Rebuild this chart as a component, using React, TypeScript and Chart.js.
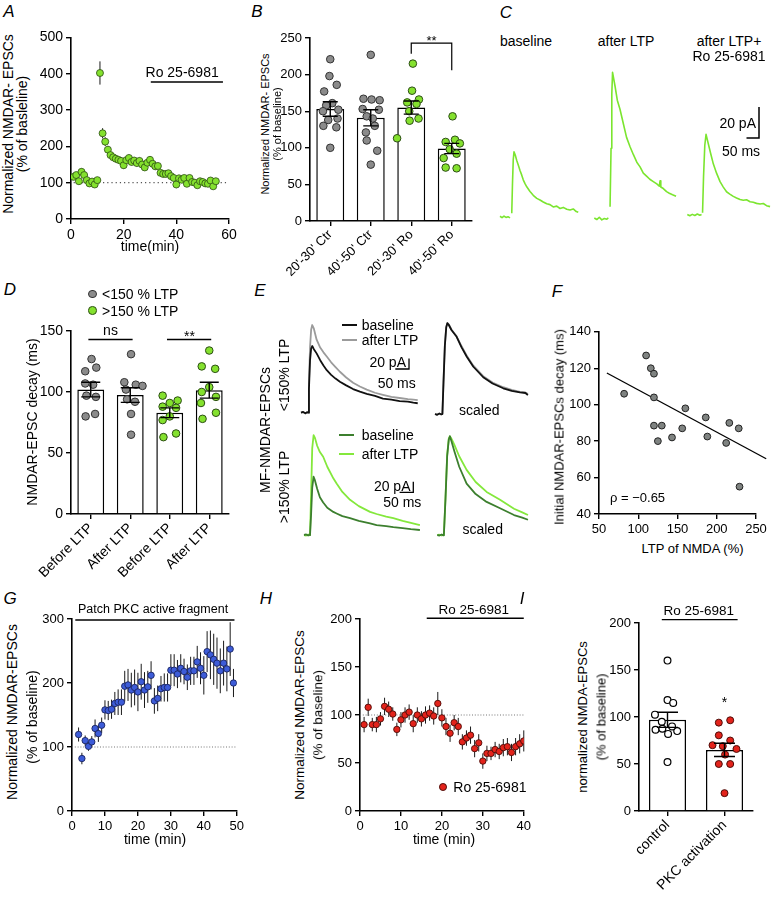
import React, { useEffect, useRef } from 'react';
import { Chart, registerables } from 'chart.js';

Chart.register(...registerables);

const FONT = "'Liberation Sans', Arial, Helvetica, sans-serif";
Chart.defaults.font.family = FONT;
Chart.defaults.color = '#000';

/* ================= DATA ================= */
// Panel A – time course (min, % of baseline)
const A_TIME = [1,2,3,4,5,6,7,8,9,10,11,12,13,14,15,16,17,18,19,20,21,22,23,24,25,26,27,28,29,30,31,32,33,34,35,36,37,38,39,40,41,42,43,44,45,46,47,48,49,50,51,52,53,54,55];
const A_NMDA = [116,121,104,130,121,107,98,103,95,107, 402,236,213,191,176,170,166,163,160,148, 162,168,157,161,154,160,150,142,155,163, 152,145,146,127,124,124,126,118,113,95, 112,108,113,97,113,102,100,93,104,102, 98,97,106,90,104];
const A_SEM = [8,8,8,9,8,8,7,7,8,8, 32,14,12,10,10,9,9,9,9,10, 9,9,9,9,9,9,9,9,9,9, 9,9,9,8,8,8,8,8,8,10, 8,8,8,8,8,8,7,7,7,7, 7,7,7,7,7];
const A_X_TICKS = [0, 20, 40, 60];
const A_Y_TICKS = [0, 100, 200, 300, 400, 500];

// Panel B – bars + individual cells
const B_LABELS = ["20'-30' Ctr", "40'-50' Ctr", "20'-30' Ro", "40'-50' Ro"];
const B_MEAN = [153, 141, 155, 99];
const B_SEM = [10, 11, 9, 7];
const B_CTR_20_30 = [221, 198, 186, 177, 161, 158, 152, 150, 140, 138, 130, 128, 100];
const B_CTR_40_50 = [227, 167, 166, 165, 153, 152, 143, 140, 130, 121, 110, 96, 77];
const B_RO_20_30 = [215, 178, 166, 162, 160, 150, 140, 137, 113];
const B_RO_40_50 = [143, 111, 108, 106, 98, 92, 86, 73, 72];
const B_Y_TICKS = [0, 50, 100, 150, 200, 250];

// Panel C – example traces (ms, pA)
const C_BASE_MS = [0,8,16,24,32,40,43,47,50,53,56,61,67,74,80,87,93,100,107,120,133,147,160,173,187,200,213,227,240,253,267,280,293,305,313];
const C_BASE_PA = [0.5,-0.4,0.6,-0.3,0.2,-0.6,null,2.4,22,37,42,40,36.5,33,30,27,24,21.5,19.5,16.5,14,12,11,9.7,8.5,8,6.5,7,5.5,6.2,5,4.5,5.2,3.5,3];
const C_LTP_MS = [0,10,20,30,40,50,56,59,63,67,70,73,83,92,103,116,129,143,156,170,183,196,209,222,236,250,260,263,266,276,289,300,313,327];
const C_LTP_PA = [0,-1,0.5,-1.2,-0.3,-0.8,0.2,null,7.3,45,80,94,85,76,70,61,52,46,41,36,33,29,27,25,23.5,22,20.5,24,20,19,17,16,15,14];
const C_RO_MS = [0,10,20,30,40,50,57,59,61,65,70,75,84,93,104,117,131,144,157,170,184,197,211,224,237,251,264,277,291,304,317,331];
const C_RO_PA = [0.3,-0.5,0.4,-0.3,0.6,-0.2,0.3,null,1.5,25,45,52,46,40,33,27,21.5,18,15,13.5,12,11,10,9.5,9.8,8.6,8.2,7.5,7.1,7.4,6,5.4];
const C_BAR_PA = 20;
const C_BAR_MS = 50;

// Panel D – decay times
const D_LABELS = ['Before LTP', 'After LTP', 'Before LTP', 'After LTP'];
const D_MEAN = [102, 97.5, 83, 101.5];
const D_SEM = [6, 6, 4, 6.5];
const D_LOW_BEFORE = [127, 120, 117, 107, 106, 97, 96, 82, 80];
const D_LOW_AFTER = [131, 108, 106, 105, 102, 94, 92, 82, 65];
const D_HIGH_BEFORE = [97, 93, 91, 88, 87, 80, 77, 66, 63];
const D_HIGH_AFTER = [134, 121, 119, 104, 100, 96, 91, 83, 78];
const D_Y_TICKS = [0, 50, 100, 150];

// Panel E – traces (ms, pA)
const E_LOW_MS = [0,8,16,22,26,29,33,37,41,47,57,70,82,94,110,126,142,165,190,215,240,270,299,330,360,390,410,426];
const E_LOW_BASE = [0,1.5,-1,1,0,45,100,122,127,121,113,100,90,81,72,65,59,52,45,40,36,32,27,25,22,21,19,18];
const E_LOW_LTP = [0,1,-1.5,0.5,0,55,125,158,167,160,139,124,115,107,96,87,78,67,57,50,44,38,34,30,28,26,25,24];
const E_LOW_SC_MS = [0,8,16,22,27,31,36,41,45,50,60,79,97,116,140,176,210,249,280,310,330,339];
const E_LOW_SC_BASE = [0,-1.5,1,-0.5,0,60,130,165,173,170,160,147,127,109,90,70,58,49,44,41,40,36];
const E_LOW_SC_LTP = [0,-1,0.5,-1,0,62,132,166,173,171,161,148,129,111,92,72,60,51,46,42,41,38];
const E_HIGH_MS = [0,8,15,20,22,26,30,35,40,48,58,70,85,107,119,140,168,200,241,265,300,326,360,390,423];
const E_HIGH_BASE = [0,1,-1,0.5,0,40,90,111,104,88,72,62,52,44,41,36,32,27,22,19,17,15,13,11,9.5];
const E_HIGH_LTP = [0,-1,1,-0.5,0,80,165,190,185,170,158,149,130,108,98,82,67,55,44,40,35,32,27,23,19];
const E_HIGH_SC_MS = [0,8,16,21,24,30,36,42,46,52,62,80,107,140,180,229,280,310,331];
const E_HIGH_SC_BASE = [0,-1,1,-0.5,0,70,150,182,188,178,160,130,98,78,63,51,38,33,29];
const E_HIGH_SC_LTP = [0,0.5,-1,0.5,0,72,152,184,188,183,172,150,124,101,82,67,50,43,38];
const E_BAR_PA = 20;
const E_BAR_MS = 50;

// Panel F – correlation
const F_LTP = [82, 110, 116, 120, 120, 120, 130, 125, 143, 156, 160, 186, 188, 212, 216, 228, 229];
const F_DECAY = [106, 127, 120, 117, 104, 88.5, 88.5, 80, 82, 87, 98, 93, 82.5, 79, 90, 87, 55];
const F_FIT_X = [60, 263];
const F_FIT_Y = [117.4, 70.3];
const F_X_TICKS = [50, 100, 150, 200, 250];
const F_Y_TICKS = [40, 60, 80, 100, 120, 140];

// Panel G – PKC fragment
const G_TIME = [2,3,4,5,6,7,8,9,10,11,12,13,14,15,16,17,18,19,20,21,22,23,24,25,26,27,28,29,30,31,32,33,34,35,36,37,38,39,40,41,42,43,44,45,46,47,48,49];
const G_NMDA = [119.5,82,110,101,108,129,121,134, 158,157,159,168,170,170,195,197, 189,193,186,202,189,194,212,172, 176,191,193,193,220,220,214,223, 218,209,219,219,233,223,212,249, 244,237,231,219,231,222,253,200];
const G_SEM = [11,9,8,7,9,14,13,12, 15,15,15,18,20,20,24,25, 27,28,30,28,28,25,22,20, 20,20,22,22,25,25,22,22, 20,20,22,22,25,25,30,32, 38,40,40,35,35,35,42,22];
const G_X_TICKS = [0, 10, 20, 30, 40, 50];
const G_Y_TICKS = [0, 100, 200, 300];

// Panel H – Ro 25-6981
const H_TIME = [1,2,3,4,5,6,7,8,9,10,11,12,13,14,15,16,17,18,19,20,21,22,23,24,25,26,27,28,29,30,31,32,33,34,35,36,37,38,39,40];
const H_NMDA = [90,108,90,90,96,109,106,101,85,95, 100,103,91,100,96,100,102,99,112,97, 88,81,92,88,72,76,79,65,71,52, 60,60,64,62,66,67,61,67,70,73];
const H_SEM = [8,9,7,8,7,9,8,7,7,8, 8,8,9,8,8,9,8,9,12,9, 9,9,8,9,8,8,9,9,9,8, 8,7,8,8,9,9,9,9,10,11];
const H_X_TICKS = [0, 10, 20, 30, 40];
const H_Y_TICKS = [0, 50, 100, 150, 200];

// Panel I
const I_LABELS = ['control', 'PKC activation'];
const I_MEAN = [97, 65];
const I_SEM = [8, 7];
const I_CONTROL = [160, 118, 115, 102.5, 95, 86.5, 87.5, 82, 85, 90, 52];
const I_PKC = [94, 96.5, 80.5, 75, 70, 69, 66, 60, 50, 50, 19];
const I_Y_TICKS = [0, 50, 100, 150, 200];

/* ================= LAYOUT / STYLE ================= */
// horizontal scatter offsets of individual dots (category units)
const B_JIT = [
  [0, -0.02, 0.16, -0.15, 0.05, -0.1, 0.2, -0.18, 0.18, -0.05, -0.17, 0.15, 0],
  [0, -0.18, 0.02, 0.22, -0.2, 0.2, -0.1, 0.05, 0.1, -0.12, -0.1, 0.16, 0],
  [0.04, 0.02, 0.19, -0.1, 0.13, -0.05, 0.18, -0.04, -0.35],
  [0.02, 0.08, -0.15, 0.2, -0.05, 0.12, -0.2, -0.15, 0.12],
];
const D_JIT = [
  [0.02, 0.14, -0.14, -0.14, 0.06, -0.11, 0.13, 0.11, -0.13],
  [0.02, -0.15, 0.14, 0.31, -0.11, -0.08, 0.12, 0.02, 0.02],
  [-0.18, 0.2, 0, -0.18, 0.16, 0, -0.18, 0.16, -0.16],
  [0, -0.19, 0.15, 0, -0.19, 0.17, -0.21, 0.17, -0.17],
];
const I_JIT = [
  [0, 0, 0.1, -0.22, -0.1, -0.21, -0.09, 0.01, 0.17, 0.08, 0],
  [-0.1, 0.1, -0.1, 0.1, -0.21, -0.03, 0.21, 0.01, -0.1, 0.1, 0],
];

const GREEN = '#84e12e';
const GREEN_EDGE = '#2c4d14';
const GRAY = '#8b8b8b';
const GRAY_EDGE = '#333333';
const BLUE = '#3d5cd8';
const BLUE_EDGE = '#1b2560';
const RED = '#e3231b';
const RED_EDGE = '#4d0b07';
const TRACE_GREEN = '#7be52f';
const E_BLACK = '#111111';
const E_GRAY = '#9b9b9b';
const E_DARK = '#3c7f2e';
const E_LIGHT = '#84e83c';

type Plot = { x: number; y: number; w: number; h: number; l: number; t: number; r: number; b: number };
const PLOT_A: Plot = { x: 71, y: 36, w: 158, h: 183, l: 40, t: 10, r: 15, b: 25 };
const PLOT_B: Plot = { x: 310, y: 38, w: 162, h: 183, l: 35, t: 32, r: 10, b: 80 };
const PLOT_D: Plot = { x: 71, y: 331, w: 158, h: 183, l: 40, t: 25, r: 10, b: 80 };
const PLOT_F: Plot = { x: 599, y: 331, w: 157, h: 183, l: 35, t: 10, r: 16, b: 25 };
const PLOT_G: Plot = { x: 72, y: 619, w: 165, h: 192, l: 35, t: 20, r: 10, b: 25 };
const PLOT_H: Plot = { x: 360, y: 619, w: 164, h: 192, l: 35, t: 20, r: 10, b: 25 };
const PLOT_I: Plot = { x: 639, y: 623, w: 114, h: 188, l: 35, t: 20, r: 15, b: 85 };

type Geo = { left: number; top: number; w: number; h: number; x0: number; y0: number; pxMs: number; pxPa: number };
const GEO_C1: Geo = { left: 497, top: 60, w: 86, h: 175, x0: 500, y0: 217, pxMs: 0.25, pxPa: 1.55 };
const GEO_C2: Geo = { left: 591, top: 60, w: 90, h: 175, x0: 594.3, y0: 218, pxMs: 0.25, pxPa: 1.55 };
const GEO_C3: Geo = { left: 684, top: 60, w: 88, h: 175, x0: 687.3, y0: 215, pxMs: 0.25, pxPa: 1.55 };
const GEO_E1: Geo = { left: 296, top: 312, w: 130, h: 110, x0: 301, y0: 412.7, pxMs: 0.274, pxPa: 0.525 };
const GEO_E2: Geo = { left: 430, top: 312, w: 105, h: 110, x0: 435, y0: 414, pxMs: 0.274, pxPa: 0.525 };
const GEO_E3: Geo = { left: 298, top: 425, w: 128, h: 118, x0: 304, y0: 535, pxMs: 0.274, pxPa: 0.525 };
const GEO_E4: Geo = { left: 432, top: 425, w: 102, h: 118, x0: 437.3, y0: 535, pxMs: 0.274, pxPa: 0.525 };
// scale-bar corners (data units of the chart they sit in)
const C_BAR_AT = [286.8, 49.7];
const E1_BAR_AT = [394.2, 83.2];
const E3_BAR_AT = [398.9, 81.3];

/* ================= PLUGINS ================= */
type Pt = [number, number];
type ALine = { pts: Pt[]; color?: string; width?: number; dash?: number[]; under?: boolean; xs?: string };
type AText = { x: number; y: number; text: string; size: number; align?: string; baseline?: string; xs?: string };

function annotPlugin(lines: ALine[], texts: AText[] = []) {
  const draw = (chart: any, under: boolean) => {
    const ctx = chart.ctx;
    const ys = chart.scales.y;
    lines.filter((l) => !!l.under === under).forEach((l) => {
      const xs = chart.scales[l.xs || 'x'];
      ctx.save();
      ctx.strokeStyle = l.color || '#000';
      ctx.lineWidth = l.width ?? 1.5;
      ctx.setLineDash(l.dash || []);
      ctx.beginPath();
      l.pts.forEach(([x, y], i) => {
        const px = xs.getPixelForValue(x);
        const py = ys.getPixelForValue(y);
        if (i === 0) ctx.moveTo(px, py);
        else ctx.lineTo(px, py);
      });
      ctx.stroke();
      ctx.restore();
    });
    if (!under) {
      texts.forEach((t) => {
        const xs = chart.scales[t.xs || 'x'];
        ctx.save();
        ctx.fillStyle = '#000';
        ctx.font = `${t.size}px ${FONT}`;
        ctx.textAlign = t.align || 'center';
        ctx.textBaseline = t.baseline || 'middle';
        ctx.fillText(t.text, xs.getPixelForValue(t.x), ys.getPixelForValue(t.y));
        ctx.restore();
      });
    }
  };
  return {
    id: 'annot',
    beforeDatasetsDraw: (c: any) => draw(c, true),
    afterDatasetsDraw: (c: any) => draw(c, false),
  };
}

function errPlugin(ds: number, means: number[], errs: number[], o: { cap: number; color: string; width: number; under: boolean }) {
  const draw = (chart: any) => {
    const meta = chart.getDatasetMeta(ds);
    const ys = chart.scales.y;
    const ctx = chart.ctx;
    ctx.save();
    ctx.strokeStyle = o.color;
    ctx.lineWidth = o.width;
    ctx.beginPath();
    meta.data.forEach((el: any, i: number) => {
      const x = el.x;
      const yt = ys.getPixelForValue(means[i] + errs[i]);
      const yb = ys.getPixelForValue(means[i] - errs[i]);
      ctx.moveTo(x, yt);
      ctx.lineTo(x, yb);
      if (o.cap > 0) {
        ctx.moveTo(x - o.cap / 2, yt);
        ctx.lineTo(x + o.cap / 2, yt);
        ctx.moveTo(x - o.cap / 2, yb);
        ctx.lineTo(x + o.cap / 2, yb);
      }
    });
    ctx.stroke();
    ctx.restore();
  };
  return o.under ? { id: 'errbars', beforeDatasetsDraw: draw } : { id: 'errbars', afterDatasetsDraw: draw };
}

/* ================= CONFIG BUILDERS ================= */
const BASE = {
  responsive: false,
  animation: false,
  devicePixelRatio: 1,
  events: [],
  plugins: { legend: { display: false }, tooltip: { enabled: false } },
};

const GRID = { display: true, drawOnChartArea: false, drawTicks: true, tickLength: 5, color: '#000', lineWidth: 1.4 };
const BORDER = { display: true, color: '#000', width: 1.6 };

function linAxis(ticks: number[], size: number, fit: number, horizontal: boolean) {
  return {
    type: 'linear',
    min: ticks[0],
    max: ticks[ticks.length - 1],
    afterBuildTicks: (s: any) => {
      s.ticks = ticks.map((v) => ({ value: v }));
    },
    afterFit: (s: any) => {
      if (horizontal) s.height = fit;
      else s.width = fit;
    },
    ticks: { color: '#000', font: { size, family: FONT }, padding: 3, autoSkip: false, maxRotation: 0, minRotation: 0 },
    grid: GRID,
    border: BORDER,
  };
}

const padOf = (p: Plot) => ({ padding: { left: 0, top: p.t, right: p.r, bottom: 0 } });

type Dot = { r: number; fill: string; edge: string; bw: number };

function timeConfig(p: Plot, xs: number[], vs: number[], es: number[], d: Dot, xT: number[], yT: number[], fs: number, lines: ALine[], texts: AText[]) {
  return {
    type: 'scatter',
    data: {
      datasets: [
        {
          data: xs.map((x, i) => ({ x, y: vs[i] })),
          pointRadius: d.r,
          pointBackgroundColor: d.fill,
          pointBorderColor: d.edge,
          pointBorderWidth: d.bw,
        },
      ],
    },
    options: {
      ...BASE,
      layout: padOf(p),
      scales: { x: linAxis(xT, fs, p.b, true), y: linAxis(yT, fs, p.l, false) },
    },
    plugins: [errPlugin(0, vs, es, { cap: 0, color: '#1a1a1a', width: 1, under: true }), annotPlugin(lines, texts)],
  };
}

type Group = { idx: number; vals: number[]; jit: number[]; d: Dot };

function barConfig(p: Plot, labels: string[], means: number[], sems: number[], groups: Group[], yT: number[], fs: number, ls: number, barPct: number, cap: number, lines: ALine[], texts: AText[]) {
  const n = labels.length;
  return {
    type: 'bar',
    data: {
      labels,
      datasets: [
        {
          type: 'bar',
          data: means,
          backgroundColor: '#fff',
          borderColor: '#000',
          borderWidth: 1.5,
          barPercentage: barPct,
          categoryPercentage: 1,
          grouped: false,
          order: 2,
          xAxisID: 'x',
          yAxisID: 'y',
        },
        ...groups.map((g) => ({
          type: 'scatter',
          data: g.vals.map((v, i) => ({ x: g.idx + g.jit[i], y: v })),
          xAxisID: 'xj',
          yAxisID: 'y',
          pointRadius: g.d.r,
          pointBackgroundColor: g.d.fill,
          pointBorderColor: g.d.edge,
          pointBorderWidth: g.d.bw,
          order: 1,
        })),
      ],
    },
    options: {
      ...BASE,
      layout: padOf(p),
      scales: {
        x: {
          type: 'category',
          offset: true,
          afterFit: (s: any) => {
            s.height = p.b;
          },
          ticks: { color: '#000', font: { size: ls, family: FONT }, minRotation: 45, maxRotation: 45, autoSkip: false, padding: 1 },
          grid: { ...GRID, offset: false },
          border: BORDER,
        },
        xj: { type: 'linear', display: false, offset: false, grid: { offset: false }, min: -0.5, max: n - 0.5 },
        y: linAxis(yT, fs, p.l, false),
      },
    },
    plugins: [errPlugin(0, means, sems, { cap, color: '#000', width: 1.4, under: false }), annotPlugin(lines, texts)],
  };
}

type Series = { ms: number[]; pa: (number | null)[]; color: string; width: number };

function traceConfig(g: Geo, series: Series[], lines: ALine[]) {
  return {
    type: 'line',
    data: {
      datasets: series.map((s) => ({
        data: s.ms.map((t, i) => ({ x: t, y: s.pa[i] })),
        borderColor: s.color,
        borderWidth: s.width,
        pointRadius: 0,
        tension: 0,
        fill: false,
        spanGaps: false,
        clip: false,
        borderJoinStyle: 'round',
      })),
    },
    options: {
      ...BASE,
      layout: { padding: 0 },
      scales: {
        x: { type: 'linear', display: false, min: (g.left - g.x0) / g.pxMs, max: (g.left + g.w - g.x0) / g.pxMs },
        y: { type: 'linear', display: false, min: (g.y0 - g.top - g.h) / g.pxPa, max: (g.y0 - g.top) / g.pxPa },
      },
    },
    plugins: [annotPlugin(lines)],
  };
}

const scaleBar = (at: number[], ms: number, pa: number): ALine => ({
  pts: [
    [at[0] - ms, at[1]],
    [at[0], at[1]],
    [at[0], at[1] + pa],
  ],
  width: 1.5,
});

/* ================= CHART FACTORIES ================= */
const DOT_A: Dot = { r: 3.5, fill: GREEN, edge: GREEN_EDGE, bw: 0.8 };
const DOT_GRAY: Dot = { r: 3.8, fill: GRAY, edge: GRAY_EDGE, bw: 1 };
const DOT_GREEN: Dot = { r: 3.8, fill: GREEN, edge: GREEN_EDGE, bw: 1 };

const makeA = () =>
  timeConfig(PLOT_A, A_TIME, A_NMDA, A_SEM, DOT_A, A_X_TICKS, A_Y_TICKS, 14, [
    { pts: [[30.3, 377], [57.7, 377]], width: 1.5 },
    { pts: [[1, 100], [60, 100]], dash: [1.2, 3], color: '#555', width: 1.2, under: true },
  ], [{ x: 42.2, y: 401, text: 'Ro 25-6981', size: 14 }]);

const makeB = () =>
  barConfig(PLOT_B, B_LABELS, B_MEAN, B_SEM, [
    { idx: 0, vals: B_CTR_20_30, jit: B_JIT[0], d: DOT_GRAY },
    { idx: 1, vals: B_CTR_40_50, jit: B_JIT[1], d: DOT_GRAY },
    { idx: 2, vals: B_RO_20_30, jit: B_JIT[2], d: DOT_GREEN },
    { idx: 3, vals: B_RO_40_50, jit: B_JIT[3], d: DOT_GREEN },
  ], B_Y_TICKS, 13, 13, 0.69, 15, [
    { pts: [[2, 228.5], [2, 243], [3, 243], [3, 206]], width: 1.2, xs: 'xj' },
  ], [{ x: 2.5, y: 239.8, text: '**', size: 13, baseline: 'alphabetic', xs: 'xj' }]);

const makeD = () =>
  barConfig(PLOT_D, D_LABELS, D_MEAN, D_SEM, [
    { idx: 0, vals: D_LOW_BEFORE, jit: D_JIT[0], d: DOT_GRAY },
    { idx: 1, vals: D_LOW_AFTER, jit: D_JIT[1], d: DOT_GRAY },
    { idx: 2, vals: D_HIGH_BEFORE, jit: D_JIT[2], d: DOT_GREEN },
    { idx: 3, vals: D_HIGH_AFTER, jit: D_JIT[3], d: DOT_GREEN },
  ], D_Y_TICKS, 14, 14, 0.68, 19, [
    { pts: [[-0.06, 143], [1.06, 143]], width: 1.5, xs: 'xj' },
    { pts: [[1.93, 143], [3.05, 143]], width: 1.5, xs: 'xj' },
  ], [
    { x: 0.5, y: 146.8, text: 'ns', size: 14, baseline: 'alphabetic', xs: 'xj' },
    { x: 2.5, y: 141.7, text: '**', size: 14, baseline: 'alphabetic', xs: 'xj' },
  ]);

const makeF = () => ({
  type: 'scatter',
  data: {
    datasets: [
      {
        data: F_LTP.map((x, i) => ({ x, y: F_DECAY[i] })),
        pointRadius: 3.4,
        pointBackgroundColor: '#7f8381',
        pointBorderColor: '#222',
        pointBorderWidth: 1,
        order: 1,
      },
      {
        type: 'line',
        data: F_FIT_X.map((x, i) => ({ x, y: F_FIT_Y[i] })),
        showLine: true,
        borderColor: '#000',
        borderWidth: 1.3,
        pointRadius: 0,
        clip: false,
        order: 2,
      },
    ],
  },
  options: {
    ...BASE,
    layout: padOf(PLOT_F),
    scales: { x: linAxis(F_X_TICKS, 13, PLOT_F.b, true), y: linAxis(F_Y_TICKS, 13, PLOT_F.l, false) },
  },
});

const makeG = () =>
  timeConfig(PLOT_G, G_TIME, G_NMDA, G_SEM, { r: 3.2, fill: BLUE, edge: BLUE_EDGE, bw: 0.9 }, G_X_TICKS, G_Y_TICKS, 13, [
    { pts: [[1, 298.4], [49.3, 298.4]], width: 1.3 },
    { pts: [[0, 100], [50, 100]], dash: [1, 1.8], color: '#777', width: 1.2, under: true },
  ], [{ x: 24.6, y: 314, text: 'Patch PKC active fragment', size: 12.5 }]);

const makeH = () =>
  timeConfig(PLOT_H, H_TIME, H_NMDA, H_SEM, { r: 3.2, fill: RED, edge: RED_EDGE, bw: 0.9 }, H_X_TICKS, H_Y_TICKS, 13, [
    { pts: [[16.3, 200.8], [40, 200.8]], width: 1.5 },
    { pts: [[0, 100], [40, 100]], dash: [1, 1.8], color: '#777', width: 1.2, under: true },
  ], [{ x: 27.8, y: 209.5, text: 'Ro 25-6981', size: 13.5 }]);

const makeI = () =>
  barConfig(PLOT_I, I_LABELS, I_MEAN, I_SEM, [
    { idx: 0, vals: I_CONTROL, jit: I_JIT[0], d: { r: 3.4, fill: '#fff', edge: '#000', bw: 1.2 } },
    { idx: 1, vals: I_PKC, jit: I_JIT[1], d: { r: 3.5, fill: RED, edge: RED_EDGE, bw: 1 } },
  ], I_Y_TICKS, 13, 14, 0.65, 21, [
    { pts: [[-0.1, 203.6], [1.23, 203.6]], width: 1.3, xs: 'xj' },
  ], [
    { x: 0.55, y: 212.8, text: 'Ro 25-6981', size: 13.5, xs: 'xj' },
    { x: 1, y: 111, text: '*', size: 14, baseline: 'alphabetic', xs: 'xj' },
  ]);

const makeC1 = () => traceConfig(GEO_C1, [{ ms: C_BASE_MS, pa: C_BASE_PA, color: TRACE_GREEN, width: 1.6 }], []);
const makeC2 = () => traceConfig(GEO_C2, [{ ms: C_LTP_MS, pa: C_LTP_PA, color: TRACE_GREEN, width: 1.6 }], []);
const makeC3 = () => traceConfig(GEO_C3, [{ ms: C_RO_MS, pa: C_RO_PA, color: TRACE_GREEN, width: 1.6 }], [scaleBar(C_BAR_AT, C_BAR_MS, C_BAR_PA)]);
const makeE1 = () =>
  traceConfig(GEO_E1, [
    { ms: E_LOW_MS, pa: E_LOW_BASE, color: E_BLACK, width: 1.8 },
    { ms: E_LOW_MS, pa: E_LOW_LTP, color: E_GRAY, width: 1.8 },
  ], [{ ...scaleBar(E1_BAR_AT, E_BAR_MS, E_BAR_PA), width: 1.3 }]);
const makeE2 = () =>
  traceConfig(GEO_E2, [
    { ms: E_LOW_SC_MS, pa: E_LOW_SC_BASE, color: E_BLACK, width: 1.8 },
    { ms: E_LOW_SC_MS, pa: E_LOW_SC_LTP, color: E_GRAY, width: 1.8 },
  ], []);
const makeE3 = () =>
  traceConfig(GEO_E3, [
    { ms: E_HIGH_MS, pa: E_HIGH_BASE, color: E_DARK, width: 1.8 },
    { ms: E_HIGH_MS, pa: E_HIGH_LTP, color: E_LIGHT, width: 1.8 },
  ], [{ ...scaleBar(E3_BAR_AT, E_BAR_MS, E_BAR_PA), width: 1.3 }]);
const makeE4 = () =>
  traceConfig(GEO_E4, [
    { ms: E_HIGH_SC_MS, pa: E_HIGH_SC_BASE, color: E_DARK, width: 1.8 },
    { ms: E_HIGH_SC_MS, pa: E_HIGH_SC_LTP, color: E_LIGHT, width: 1.8 },
  ], []);

/* ================= COMPONENTS ================= */
function ChartBox({ left, top, width, height, make }: { left: number; top: number; width: number; height: number; make: () => any }) {
  const ref = useRef<HTMLCanvasElement>(null);
  useEffect(() => {
    const chart = new Chart(ref.current as HTMLCanvasElement, make());
    return () => chart.destroy();
  }, []);
  return (
    <canvas
      ref={ref}
      width={width}
      height={height}
      style={{ position: 'absolute', left, top, width, height }}
    />
  );
}

const PlotBox = ({ p, make }: { p: Plot; make: () => any }) => (
  <ChartBox left={p.x - p.l} top={p.y - p.t} width={p.w + p.l + p.r} height={p.h + p.t + p.b} make={make} />
);
const TraceBox = ({ g, make }: { g: Geo; make: () => any }) => (
  <ChartBox left={g.left} top={g.top} width={g.w} height={g.h} make={make} />
);

function T({ x, y, s = 14, a = 'c', r = 0, it = false, children }: { x: number; y: number; s?: number; a?: string; r?: number; it?: boolean; children: React.ReactNode }) {
  const tx = a === 'c' ? '-50%' : a === 'e' ? '-100%' : '0';
  return (
    <div
      style={{
        position: 'absolute',
        left: x,
        top: y,
        fontSize: s,
        lineHeight: 1,
        whiteSpace: 'nowrap',
        fontStyle: it ? 'italic' : 'normal',
        transform: `translate(${tx}, -50%)${r ? ` rotate(${r}deg)` : ''}`,
      }}
    >
      {children}
    </div>
  );
}

const LegendDot = ({ x, y, r, fill, edge }: { x: number; y: number; r: number; fill: string; edge: string }) => (
  <div
    style={{
      position: 'absolute',
      left: x - r,
      top: y - r,
      width: 2 * r,
      height: 2 * r,
      boxSizing: 'border-box',
      borderRadius: '50%',
      background: fill,
      border: `1px solid ${edge}`,
    }}
  />
);

const LegendLine = ({ x1, x2, y, color }: { x1: number; x2: number; y: number; color: string }) => (
  <div style={{ position: 'absolute', left: x1, top: y - 1, width: x2 - x1, height: 2, background: color }} />
);

export default function App() {
  return (
    <div
      style={{
        position: 'absolute',
        left: 0,
        top: 0,
        width: 772,
        height: 899,
        overflow: 'hidden',
        background: '#fff',
        fontFamily: FONT,
        color: '#000',
      }}
    >
      <PlotBox p={PLOT_A} make={makeA} />
      <PlotBox p={PLOT_B} make={makeB} />
      <TraceBox g={GEO_C1} make={makeC1} />
      <TraceBox g={GEO_C2} make={makeC2} />
      <TraceBox g={GEO_C3} make={makeC3} />
      <PlotBox p={PLOT_D} make={makeD} />
      <TraceBox g={GEO_E1} make={makeE1} />
      <TraceBox g={GEO_E2} make={makeE2} />
      <TraceBox g={GEO_E3} make={makeE3} />
      <TraceBox g={GEO_E4} make={makeE4} />
      <PlotBox p={PLOT_F} make={makeF} />
      <PlotBox p={PLOT_G} make={makeG} />
      <PlotBox p={PLOT_H} make={makeH} />
      <PlotBox p={PLOT_I} make={makeI} />

      {/* panel letters */}
      <T x={9} y={11} s={17} it>A</T>
      <T x={257} y={11} s={17} it>B</T>
      <T x={506} y={12} s={17} it>C</T>
      <T x={10} y={289} s={17} it>D</T>
      <T x={260} y={290} s={17} it>E</T>
      <T x={557} y={291} s={17} it>F</T>
      <T x={10} y={598} s={17} it>G</T>
      <T x={266} y={598} s={17} it>H</T>
      <T x={522} y={598} s={17} it>I</T>

      {/* A */}
      <T x={7.5} y={124} r={-90}>Normalized NMDAR- EPSCs</T>
      <T x={21.5} y={124} r={-90}>(% of basleline)</T>
      <T x={150} y={246}>time(min)</T>

      {/* B */}
      <T x={265} y={124} s={11} r={-90}>Normalized NMDAR- EPSCs</T>
      <T x={276.5} y={124} s={11} r={-90}>(% of baseline)</T>

      {/* C */}
      <T x={526} y={41}>baseline</T>
      <T x={626} y={41}>after LTP</T>
      <T x={729} y={41}>after LTP+</T>
      <T x={729} y={55.5}>Ro 25-6981</T>
      <T x={756} y={123} a="e">20 pA</T>
      <T x={741} y={150.5}>50 ms</T>

      {/* D */}
      <T x={31.5} y={422} r={-90}>NMDAR-EPSC decay (ms)</T>
      <LegendDot x={92.7} y={294} r={4.3} fill={GRAY} edge={GRAY_EDGE} />
      <T x={102} y={294} a="s">&lt;150 % LTP</T>
      <LegendDot x={92.7} y={310.7} r={4.3} fill={GREEN} edge={GREEN_EDGE} />
      <T x={102} y={310.7} a="s">&gt;150 % LTP</T>

      {/* E */}
      <T x={265} y={430} r={-90}>MF-NMDAR-EPSCs</T>
      <T x={284} y={375} r={-90}>&lt;150% LTP</T>
      <T x={284} y={487} r={-90}>&gt;150% LTP</T>
      <LegendLine x1={341.7} x2={356.7} y={325} color={E_BLACK} />
      <T x={361.7} y={325} a="s">baseline</T>
      <LegendLine x1={341.7} x2={356.7} y={340} color={E_GRAY} />
      <T x={361.7} y={340} a="s">after LTP</T>
      <T x={406} y={362.3} a="e">20 pA</T>
      <T x={396.7} y={383.3}>50 ms</T>
      <T x={479.3} y={410}>scaled</T>
      <LegendLine x1={339.3} x2={354} y={435} color={E_DARK} />
      <T x={361.7} y={435} a="s">baseline</T>
      <LegendLine x1={339.3} x2={354} y={454.3} color={E_LIGHT} />
      <T x={361.7} y={454.3} a="s">after LTP</T>
      <T x={410.5} y={485.7} a="e">20 pA</T>
      <T x={402.3} y={501.7}>50 ms</T>
      <T x={482.7} y={529.3}>scaled</T>

      {/* F */}
      <T x={558.8} y={427} s={13} r={-90}>Initial NMDAR-EPSCs decay (ms)</T>
      <T x={692.5} y={548.3} s={13}>LTP of NMDA (%)</T>
      <T x={610} y={496.7} s={13} a="s">ρ = −0.65</T>

      {/* G */}
      <T x={12} y={712} r={-90}>Normalized NMDAR-EPSCs</T>
      <T x={31.5} y={717} r={-90}>(% of baseline)</T>
      <T x={155} y={839.3}>time (min)</T>

      {/* H */}
      <T x={300} y={714.5} s={13.5} r={-90}>Normalized NMDAR-EPSCs</T>
      <T x={318.3} y={715} s={13.5} r={-90}>(% of baseline)</T>
      <T x={444} y={839.3}>time (min)</T>
      <LegendDot x={443.3} y={786.7} r={3.9} fill={RED} edge={RED_EDGE} />
      <T x={453.3} y={786.7} a="s">Ro 25-6981</T>

      {/* I */}
      <T x={581.7} y={716.7} s={13} r={-90}>normalized NMDA-EPSCs</T>
      <T x={601.3} y={716.7} s={13} r={-90}>(% of baseline)</T>
    </div>
  );
}
